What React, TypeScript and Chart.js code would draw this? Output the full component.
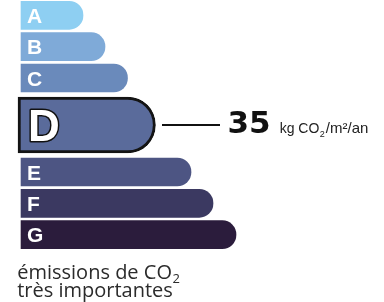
import React, { useEffect, useRef } from 'react';
import { Chart, registerables } from 'chart.js';

Chart.register(...registerables);

// ---- data ----
const grades = ['A', 'B', 'C', 'D', 'E', 'F', 'G'];
const barLengths = [62, 84, 106.5, 134.5, 170, 192, 215];
const gradeColors = ['#8ecff2', '#7faad8', '#6a8abb', '#5a6b9b', '#4d5583', '#3b3961', '#2b1c3c'];
const currentGrade = 'D';
const currentValue = 35;
const currentBarStart = -3;
const unitMain = 'kg CO';
const unitSub = '2';
const unitTail = '/m²/an';
const captionLine1 = 'émissions de CO';
const captionSub = '2';
const captionLine2 = 'très importantes';

// category slots: one spacer between rows, two around the current grade
const labels: string[] = [];
const slotOf: number[] = [];
grades.forEach((g, i) => {
  if (i > 0) {
    const wide = g === currentGrade || grades[i - 1] === currentGrade;
    const gaps = wide ? 2 : 1;
    for (let k = 0; k < gaps; k++) labels.push('');
  }
  slotOf.push(labels.length);
  labels.push(g);
});
const currentIndex = grades.indexOf(currentGrade);
const normalData = labels.map((_, s) => {
  const gi = slotOf.indexOf(s);
  return gi >= 0 && grades[gi] !== currentGrade ? barLengths[gi] : null;
});
const currentData = labels.map((_, s) =>
  s === slotOf[currentIndex] ? [currentBarStart, barLengths[currentIndex]] : null
);
const slotColors = labels.map((_, s) => {
  const gi = slotOf.indexOf(s);
  return gi >= 0 ? gradeColors[gi] : 'transparent';
});

const labelPlugin = {
  id: 'energyLabels',
  afterDatasetsDraw(chart: any) {
    const ctx = chart.ctx as CanvasRenderingContext2D;
    const meta0 = chart.getDatasetMeta(0);
    const meta1 = chart.getDatasetMeta(1);
    ctx.save();
    ctx.textAlign = 'left';
    ctx.textBaseline = 'alphabetic';
    grades.forEach((g, i) => {
      const s = slotOf[i];
      if (g === currentGrade) {
        const el = meta1.data[s];
        // outlined big letter
        ctx.font = 'bold 44px "Liberation Sans"';
        ctx.lineJoin = 'round';
        ctx.lineWidth = 3;
        ctx.strokeStyle = '#111111';
        const by = el.y + 16.2;
        ctx.strokeText(g, 28, by);
        ctx.fillStyle = '#ffffff';
        ctx.fillText(g, 28, by);
        // connector line
        ctx.beginPath();
        ctx.moveTo(el.x + 6.5, el.y);
        ctx.lineTo(220, el.y);
        ctx.lineWidth = 2;
        ctx.strokeStyle = '#111111';
        ctx.stroke();
        // value
        ctx.font = 'bold 31px "DejaVu Sans"';
        ctx.fillStyle = '#111111';
        const vx = 227.5;
        const vy = el.y + 8;
        const vs = String(currentValue);
        ctx.fillText(vs, vx, vy);
        let ux = vx + ctx.measureText(vs).width + 9;
        ctx.font = '14px "Liberation Sans"';
        ctx.fillStyle = '#222222';
        ctx.fillText(unitMain, ux, vy);
        ux += ctx.measureText(unitMain).width + 0.5;
        ctx.font = '9px "Liberation Sans"';
        ctx.fillText(unitSub, ux, vy + 3.5);
        ux += ctx.measureText(unitSub).width + 1;
        ctx.font = '15px "Liberation Sans"';
        ctx.fillText(unitTail, ux, vy);
      } else {
        const el = meta0.data[s];
        ctx.font = 'bold 21px "Liberation Sans"';
        ctx.fillStyle = '#ffffff';
        ctx.fillText(g, 27, el.y + 7.5);
      }
    });
    // caption
    ctx.fillStyle = '#2b2b2b';
    ctx.font = '20px "Open Sans"';
    ctx.fillText(captionLine1, 17.2, 279);
    const cw = ctx.measureText(captionLine1).width;
    ctx.font = '13px "Open Sans"';
    ctx.fillText(captionSub, 17.2 + cw + 0.5, 283);
    ctx.font = '20px "Open Sans"';
    ctx.fillText(captionLine2, 17.2, 297);
    ctx.restore();
  },
};

export default function App() {
  const ref = useRef<HTMLCanvasElement | null>(null);
  useEffect(() => {
    if (!ref.current) return;
    const chart = new Chart(ref.current, {
      type: 'bar',
      data: {
        labels,
        datasets: [
          {
            data: normalData as any,
            backgroundColor: slotColors,
            barThickness: 28,
            borderWidth: 0,
            borderRadius: 14,
            grouped: false,
            clip: false,
          } as any,
          {
            data: currentData as any,
            backgroundColor: gradeColors[currentIndex],
            borderColor: '#141414',
            borderWidth: 3,
            borderSkipped: false,
            borderRadius: { topLeft: 0, bottomLeft: 0, topRight: 28, bottomRight: 28 },
            barThickness: 56,
            grouped: false,
            clip: false,
          } as any,
        ],
      },
      options: {
        indexAxis: 'y',
        responsive: false,
        animation: false,
        events: [],
        layout: { padding: { left: 18, right: 13, top: 7.5, bottom: 59.5 } },
        scales: {
          x: { type: 'linear', display: false, min: -3, max: 350 },
          y: { type: 'category', display: false, offset: true },
        },
        plugins: { legend: { display: false }, tooltip: { enabled: false } },
      } as any,
      plugins: [labelPlugin],
    });
    return () => chart.destroy();
  }, []);
  return (
    <div style={{ position: 'fixed', left: 0, top: 0, width: 384, height: 302, background: '#ffffff' }}>
      <canvas ref={ref} width={384} height={302} style={{ display: 'block' }} />
    </div>
  );
}
